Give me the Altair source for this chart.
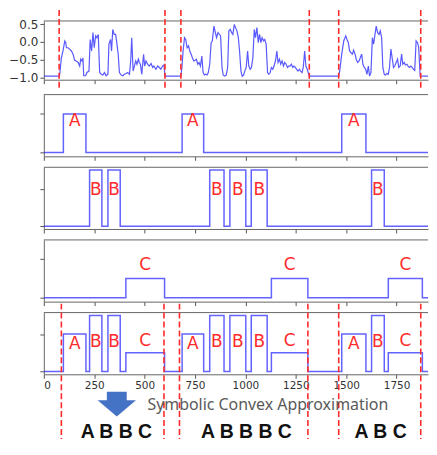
import altair as alt
import pandas as pd

# ---- data ----
signal_points = [
    (0, -0.95), (76, -0.95), (79, -0.90), (87, -0.44), (95, -0.25), (104, 0.03), (109, -0.02),
    (112, -0.16), (120, -0.16), (128, -0.20), (137, -0.25), (145, -0.34), (153, -0.51), (161, -0.53),
    (170, -0.57), (178, -0.67), (183, -0.48), (189, -0.53), (194, -0.45), (198, -0.94), (207, -0.94),
    (214, -0.85), (224, -0.81), (230, 0.07), (237, -0.25), (244, 0.26), (250, -0.16), (257, 0.17),
    (263, 0.12), (270, 0.21), (277, -0.85), (285, -0.90), (293, -0.92), (301, -0.85), (309, -0.94),
    (318, -0.90), (323, -0.06), (331, 0.07), (336, -0.25), (342, 0.35), (349, 0.21), (356, 0.21),
    (362, -0.02), (369, -0.34), (375, -0.85), (384, -0.92), (392, -0.94), (400, -0.90), (408, -0.88),
    (416, -0.85), (425, -0.90), (431, -0.53), (436, 0.12), (443, -0.81), (449, -0.67), (456, -0.53),
    (462, -0.62), (469, -0.48), (474, -0.57), (479, -0.62), (486, -0.90), (491, -0.57), (495, -0.34),
    (500, -0.67), (507, -0.53), (515, -0.62), (523, -0.67), (532, -0.60), (540, -0.71), (546, -0.67),
    (556, -0.76), (565, -0.67), (573, -0.71), (581, -0.76), (589, -0.67), (596, -0.64), (601, -0.95),
    (680, -0.95), (685, -0.71), (691, -0.25), (698, 0.12), (704, 0.07), (711, -0.16), (718, -0.11),
    (724, -0.25), (731, -0.34), (737, -0.44), (744, -0.53), (751, -0.51), (757, -0.48), (764, -0.62),
    (770, -0.57), (777, -0.67), (784, -0.39), (790, -0.85), (797, -0.92), (803, -0.90), (810, -0.92),
    (816, -0.85), (823, -0.62), (830, -0.02), (836, 0.03), (844, 0.44), (851, 0.26), (857, 0.12),
    (864, 0.26), (871, 0.21), (877, 0.17), (884, -0.71), (890, -0.92), (897, -0.95), (905, -0.92),
    (912, -0.71), (918, 0.31), (925, 0.35), (932, 0.26), (938, 0.21), (945, 0.49), (951, 0.40),
    (958, 0.31), (965, 0.12), (971, -0.25), (978, -0.81), (984, -0.95), (991, -0.92), (997, -0.81),
    (1004, -0.71), (1011, -0.25), (1017, -0.67), (1024, -0.76), (1030, -0.71), (1037, -0.44),
    (1044, 0.35), (1050, 0.12), (1057, 0.40), (1064, -0.02), (1070, 0.21), (1077, -0.02), (1083, 0.12),
    (1090, 0.03), (1096, 0.07), (1103, -0.06), (1110, -0.85), (1116, -0.90), (1123, -0.85),
    (1129, -0.71), (1136, -0.76), (1142, -0.67), (1149, -0.53), (1156, -0.25), (1162, -0.57),
    (1169, -0.48), (1175, -0.62), (1182, -0.53), (1189, -0.67), (1195, -0.57), (1202, -0.62),
    (1209, -0.71), (1215, -0.67), (1221, -0.67), (1228, -0.62), (1235, -0.71), (1241, -0.67),
    (1248, -0.71), (1254, -0.76), (1261, -0.81), (1268, -0.76), (1274, -0.81), (1281, -0.85),
    (1287, -0.71), (1294, -0.25), (1300, -0.67), (1307, -0.76), (1314, -0.90), (1317, -0.95),
    (1463, -0.95), (1468, -0.81), (1478, -0.34), (1488, 0.03), (1498, 0.17), (1504, 0.07),
    (1511, -0.02), (1517, -0.25), (1524, -0.30), (1531, -0.34), (1537, -0.23), (1544, -0.34),
    (1550, -0.48), (1557, -0.57), (1564, -0.53), (1570, -0.44), (1577, -0.34), (1583, -0.62),
    (1590, -0.71), (1597, -0.76), (1603, -0.90), (1610, -0.67), (1616, -0.95), (1623, -0.85),
    (1630, 0.12), (1636, -0.06), (1643, 0.21), (1649, 0.44), (1656, 0.26), (1663, 0.21), (1669, 0.31),
    (1676, 0.12), (1682, -0.71), (1689, -0.90), (1695, -0.92), (1702, -0.88), (1709, -0.90),
    (1715, -0.71), (1722, -0.20), (1728, -0.44), (1735, -0.71), (1741, -0.67), (1748, -0.57),
    (1755, -0.48), (1761, -0.71), (1768, -0.67), (1775, -0.34), (1781, -0.62), (1788, -0.57),
    (1794, -0.64), (1801, -0.62), (1807, -0.67), (1814, -0.71), (1821, -0.67), (1827, -0.71),
    (1834, -0.76), (1840, -0.79), (1847, 0.03), (1854, -0.02), (1860, -0.16), (1867, -0.95),
    (1873, -0.95), (1941, -0.95),
]

a_start = [97, 686, 1478]
a_end = [209, 793, 1598]
b_start = [227, 318, 823, 923, 1029, 1626]
b_end = [288, 379, 894, 1002, 1108, 1689]
c_start = [407, 1129, 1709]
c_end = [599, 1310, 1878]
symbol_level = {"A": 1.0, "B": 1.5, "C": 0.5}
label_y_single = {"A": 0.82, "B": 0.98, "C": 0.855}
label_y_combined = {"A": 0.74, "B": 0.80, "C": 0.81}

top_cuts = [76, 601, 680, 1317, 1463, 1870]
bottom_cuts = [87, 596, 673, 1310, 1463, 1870]

x_ticks = [0, 250, 500, 750, 1000, 1250, 1500, 1750]
y_ticks_signal = [-1.0, -0.5, 0.0, 0.5]
sequences = ["A B B C", "A B B B C", "A B C"]
sequence_pos = [360, 1005, 1671]
caption = "Symbolic Convex Approximation"
caption_pos = 514
arrow_pos = 362
XMAX = 1906

# ---- helpers ----
W = 386
xscale = alt.Scale(domain=[0, XMAX], nice=False, zero=False)
BLUE = "#2f2fff"
RED = "#ff2b2b"
FRAME = "#666666"


def xenc(labels):
    return alt.X("t:Q", scale=xscale,
                 axis=alt.Axis(values=x_ticks, labels=labels, format="d", grid=False, tickSize=4,
                               domain=True, domainColor=FRAME, title=None, labelFontSize=10.5,
                               labelColor="#333", labelPadding=2, tickColor="#555"))


def top_edge():
    return alt.Chart(pd.DataFrame({"t": [0]})).mark_rule(color=FRAME, strokeWidth=1).encode(
        x=alt.value(0), x2=alt.value(W), y=alt.value(0))


def intervals(starts, ends, sym):
    return [(s, e, sym) for s, e in zip(starts, ends)]


def step_table(ivs):
    rows = [{"t": 0, "v": 0.0}]
    for s, e, sym in sorted(ivs):
        rows.append({"t": s, "v": symbol_level[sym]})
        rows.append({"t": e, "v": 0.0})
    rows.append({"t": XMAX, "v": 0.0})
    return pd.DataFrame(rows)


def label_table(ivs, ymap):
    return pd.DataFrame([{"t": (s + e) / 2, "v": ymap[sym], "label": sym} for s, e, sym in ivs])


def step_panel(ivs, ymap, domain, labels=False, extra=None):
    yenc = alt.Y("v:Q", scale=alt.Scale(domain=domain, nice=False, zero=False),
                 axis=alt.Axis(values=[0, 1], labels=False, grid=False, tickSize=4,
                               domain=True, domainColor=FRAME, title=None, tickColor="#555"))
    line = alt.Chart(step_table(ivs)).mark_line(
        interpolate="step-after", color=BLUE, strokeWidth=1.5, opacity=0.75, clip=True
    ).encode(x=xenc(labels), y=yenc)
    txt = alt.Chart(label_table(ivs, ymap)).mark_text(
        color=RED, fontSize=17, font="DejaVu Sans", baseline="middle"
    ).encode(x=xenc(labels), y=yenc, text="label:N")
    layers = [top_edge(), line, txt] + (extra or [])
    return alt.layer(*layers).properties(width=W, height=62)


# ---- panel 1: raw signal ----
sig = pd.DataFrame(signal_points, columns=["t", "v"])
y1 = alt.Y("v:Q", scale=alt.Scale(domain=[-1.05, 0.585], nice=False, zero=False),
           axis=alt.Axis(values=y_ticks_signal, format=".1f", grid=False, tickSize=4, domain=True,
                         domainColor=FRAME, title=None, labelFontSize=12, labelColor="#333",
                         labelPadding=2, tickColor="#555"))
p1_line = alt.Chart(sig).mark_line(color=BLUE, strokeWidth=1.2, opacity=0.8, clip=True).encode(
    x=xenc(False), y=y1)
p1_cuts = alt.Chart(pd.DataFrame({"t": top_cuts})).mark_rule(
    color=RED, strokeDash=[6, 3], strokeWidth=1.6
).encode(x=xenc(False), y=alt.value(-11), y2=alt.value(67))
p1 = alt.layer(top_edge(), p1_line, p1_cuts).properties(width=W, height=59)

ivA = intervals(a_start, a_end, "A")
ivB = intervals(b_start, b_end, "B")
ivC = intervals(c_start, c_end, "C")

p2 = step_panel(ivA, label_y_single, [-0.1, 1.5])
p3 = step_panel(ivB, label_y_single, [-0.075, 1.575])
p4 = step_panel(ivC, label_y_single, [-0.1, 1.5])

# ---- panel 5 extras ----
bottom_rules = alt.Chart(pd.DataFrame({"t": bottom_cuts})).mark_rule(
    color=RED, strokeDash=[6, 3], strokeWidth=1.6
).encode(x=xenc(True), y=alt.value(-9), y2=alt.value(127))

arrow_path = "M -0.52 -0.65 L 0.52 -0.65 L 0.52 -0.2 L 1 -0.2 L 0 0.65 L -1 -0.2 L -0.52 -0.2 Z"
arrow = alt.Chart(pd.DataFrame({"t": [arrow_pos]})).mark_point(
    shape=arrow_path, size=1480, filled=True, color="#4472C4", opacity=1, strokeWidth=0
).encode(x=xenc(True), y=alt.value(92))

cap = alt.Chart(pd.DataFrame({"t": [caption_pos], "label": [caption]})).mark_text(
    align="left", baseline="middle", fontSize=16, font="Noto Sans", color="#595959"
).encode(x=xenc(True), y=alt.value(93), text="label:N")

seq = alt.Chart(pd.DataFrame({"t": sequence_pos, "label": sequences})).mark_text(
    align="center", baseline="middle", fontSize=19.5, fontWeight="bold",
    font="Liberation Sans", color="#111"
).encode(x=xenc(True), y=alt.value(120), text="label:N")

p5 = step_panel(ivA + ivB + ivC, label_y_combined, [-0.075, 1.575], labels=True,
                extra=[bottom_rules, arrow, cap, seq])

inner = alt.vconcat(p2, p3, p4, p5, spacing=11, bounds="flush")
chart = alt.vconcat(p1, inner, spacing=15, bounds="flush").properties(
    padding=0
).configure_view(stroke=None).configure_axis(labelFont="DejaVu Sans")

chart.save("out.html", embed_options={"renderer": "svg", "actions": False})
